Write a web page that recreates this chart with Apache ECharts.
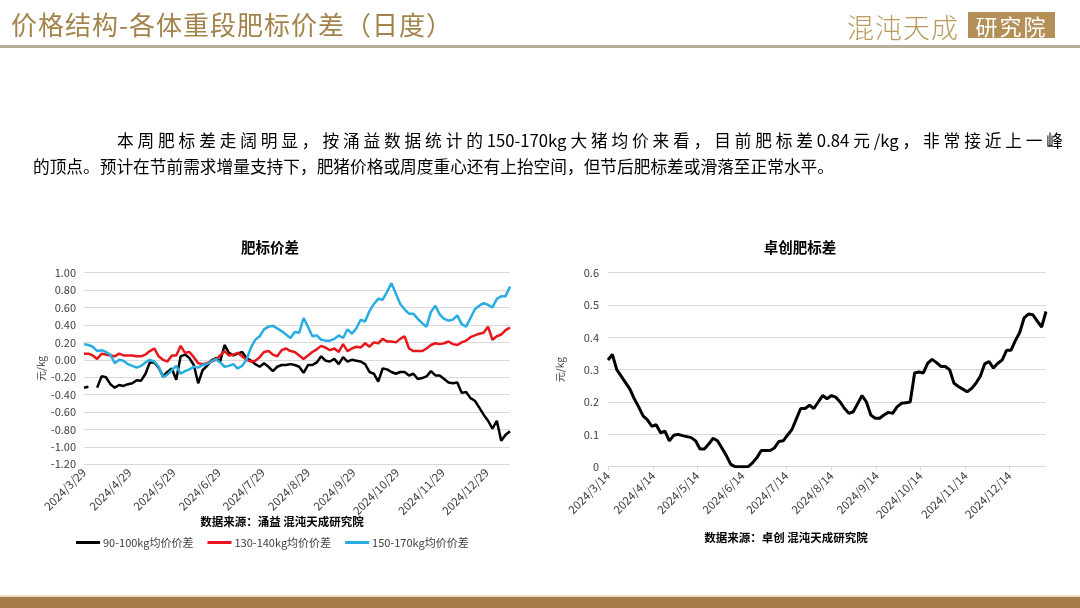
<!DOCTYPE html>
<html><head><meta charset="utf-8">
<script src="https://cdn.jsdelivr.net/npm/echarts@6/dist/echarts.min.js"></script>
<style>
html,body{margin:0;padding:0;background:#fff;}
#page{position:relative;width:1080px;height:608px;overflow:hidden;background:#fff;font-family:"Noto Sans CJK SC","Noto Sans",sans-serif;}
#chart{position:absolute;left:0;top:0;width:1080px;height:608px;}
.abs{position:absolute;white-space:nowrap;}
</style></head>
<body><div id="page">
<div id="chart"></div>
<div class="abs" style="left:11px;top:5px;font-size:26px;color:#A3834C;letter-spacing:1px;">价格结构-各体重段肥标价差（日度）</div>
<div class="abs" style="left:0;top:45px;width:1080px;height:3px;background:#B9AE9A;"></div>
<div class="abs" style="left:847px;top:7px;font-size:27px;color:#B8995F;font-weight:300;letter-spacing:1px;">混沌天成</div>
<div class="abs" style="left:968px;top:12px;width:87px;height:26px;background:#B48F58;color:#fff;font-size:22px;line-height:26px;text-align:center;letter-spacing:2px;">研究院</div>
<div class="abs" style="left:117px;top:128px;width:946px;font-size:16.7px;line-height:24px;color:#000;text-align:justify;text-align-last:justify;">本周肥标差走阔明显，按涌益数据统计的150-170kg大猪均价来看，目前肥标差0.84元/kg，非常接近上一峰</div>
<div class="abs" style="left:33px;top:154px;font-size:16.7px;line-height:24px;color:#000;">的顶点。预计在节前需求增量支持下，肥猪价格或周度重心还有上抬空间，但节后肥标差或滑落至正常水平。</div>
<div class="abs" style="left:0;top:595px;width:1080px;height:2px;background:#EBDDBF;"></div>
<div class="abs" style="left:0;top:597px;width:1080px;height:11px;background:#A67C4A;"></div>
</div>
<script>
// ---- data ----
const leftStart = '2024/3/29', leftDays = 292, leftStep = 3;
const rightStart = '2024/3/14', rightDays = 301, rightStep = 3;
const seriesNames = ['90-100kg均价价差', '130-140kg均价价差', '150-170kg均价价差'];
const rightName = '卓创肥标差';
const leftTicks = [-1.2, 1.0, 0.2];
const rightTicks = [0, 0.6, 0.1];

const black = [
-0.32,-0.31,null,-0.32,-0.19,-0.20,-0.28,-0.32,-0.29,-0.30,
-0.28,-0.27,-0.235,-0.24,-0.16,-0.03,-0.03,-0.09,-0.19,-0.14,
-0.10,-0.23,0.04,0.06,0.02,-0.06,-0.27,-0.12,-0.07,-0.01,
0.02,-0.02,0.17,0.08,0.05,0.07,0.09,0.02,-0.01,-0.05,
-0.08,-0.04,-0.08,-0.13,-0.08,-0.06,-0.06,-0.05,-0.06,-0.08,
-0.15,-0.06,-0.06,-0.03,0.04,-0.01,-0.02,0.01,-0.05,0.03,
-0.02,0.00,-0.01,-0.02,-0.05,-0.14,-0.16,-0.25,-0.10,-0.11,
-0.14,-0.16,-0.14,-0.14,-0.18,-0.16,-0.22,-0.21,-0.19,-0.13,
-0.18,-0.18,-0.22,-0.26,-0.27,-0.26,-0.38,-0.37,-0.44,-0.47,
-0.55,-0.63,-0.70,-0.79,-0.70,-0.93,-0.86,-0.82];
const red = [
0.07,0.07,0.05,0.01,0.07,0.06,0.05,0.04,0.07,0.05,
0.05,0.05,0.04,0.04,0.06,0.10,0.13,0.04,0.00,-0.02,
0.05,0.05,0.16,0.08,0.09,0.03,-0.04,-0.05,-0.04,-0.02,
0.00,0.05,0.10,0.05,0.06,0.08,0.04,0.00,-0.02,-0.01,
0.03,0.09,0.10,0.06,0.04,0.11,0.13,0.10,0.09,0.05,
0.01,0.05,0.09,0.12,0.16,0.14,0.11,0.13,0.09,0.18,
0.10,0.13,0.15,0.14,0.19,0.15,0.20,0.19,0.24,0.21,
0.21,0.20,0.24,0.27,0.13,0.10,0.10,0.10,0.13,0.17,
0.19,0.18,0.19,0.21,0.18,0.17,0.20,0.22,0.26,0.28,
0.30,0.31,0.38,0.23,0.27,0.29,0.34,0.37];
const blue = [
0.18,0.17,0.15,0.10,0.11,0.09,0.06,-0.04,0.00,-0.01,
-0.05,-0.07,-0.09,-0.07,-0.03,0.00,-0.02,-0.08,-0.20,-0.17,
-0.12,-0.07,-0.16,-0.13,-0.11,-0.08,-0.09,-0.06,-0.05,-0.02,
0.01,-0.03,-0.08,-0.07,-0.05,-0.10,-0.07,0.00,0.14,0.23,
0.27,0.35,0.38,0.39,0.36,0.33,0.29,0.25,0.32,0.31,
0.48,0.38,0.27,0.28,0.23,0.22,0.22,0.24,0.28,0.25,
0.35,0.30,0.36,0.46,0.44,0.56,0.64,0.70,0.69,0.78,
0.88,0.76,0.64,0.58,0.53,0.53,0.47,0.42,0.38,0.55,
0.62,0.52,0.47,0.45,0.46,0.51,0.41,0.38,0.48,0.58,
0.62,0.65,0.63,0.60,0.70,0.73,0.73,0.84];
const zhuochuang = [
0.33,0.347,0.30,0.28,0.26,0.24,0.21,0.185,0.157,0.145,
0.125,0.13,0.105,0.11,0.08,0.097,0.10,0.096,0.093,0.09,
0.08,0.055,0.055,0.07,0.088,0.08,0.058,0.035,0.008,0.0,
0.0,0.0,0.0,0.012,0.028,0.05,0.05,0.05,0.058,0.078,
0.08,0.098,0.115,0.148,0.18,0.18,0.19,0.18,0.20,0.22,
0.21,0.22,0.215,0.20,0.18,0.165,0.17,0.195,0.22,0.20,
0.16,0.15,0.15,0.16,0.168,0.165,0.185,0.196,0.198,0.20,
0.29,0.293,0.29,0.32,0.332,0.322,0.31,0.31,0.30,0.258,
0.248,0.24,0.232,0.242,0.258,0.28,0.318,0.325,0.305,0.32,
0.33,0.36,0.36,0.39,0.415,0.46,0.472,0.47,0.45,0.432,
0.48];

function dailyDates(start, count) {
  const p = start.split('/').map(Number);
  const t0 = Date.UTC(p[0], p[1] - 1, p[2]);
  const out = [];
  for (let i = 0; i < count; i++) {
    const d = new Date(t0 + i * 86400000);
    out.push(d.getUTCFullYear() + '/' + (d.getUTCMonth() + 1) + '/' + d.getUTCDate());
  }
  return out;
}
const leftCats = dailyDates(leftStart, leftDays);
const rightCats = dailyDates(rightStart, rightDays);
function pairs(vals, cats, step) {
  return vals.map((v, k) => [cats[k * step], v === null ? '-' : v]);
}
const on29 = (i, v) => /\/29$/.test(v);
const on14 = (i, v) => /\/14$/.test(v);
const FONT = '"Noto Sans CJK SC","Noto Sans",sans-serif';
const axisText = {fontSize: 11, color: '#404040', fontFamily: FONT};
const xText = {fontSize: 11.5, color: '#404040', fontFamily: FONT};

const chart = echarts.init(document.getElementById('chart'), null, {renderer: 'canvas'});
chart.setOption({
  animation: false,
  backgroundColor: 'transparent',
  textStyle: {fontFamily: FONT},
  grid: [
    {left: 84, top: 272.7, width: 426, height: 191.6},
    {left: 608, top: 272.7, width: 438, height: 194}
  ],
  xAxis: [
    {gridIndex: 0, type: 'category', data: leftCats, boundaryGap: false,
     axisLine: {show: false}, axisTick: {show: false}, splitLine: {show: false},
     axisLabel: Object.assign({interval: on29, rotate: 45, margin: 6}, xText)},
    {gridIndex: 1, type: 'category', data: rightCats, boundaryGap: false,
     axisLine: {show: true, lineStyle: {color: '#D9D9D9', width: 1}},
     axisTick: {show: true, interval: on14, length: 4, lineStyle: {color: '#D9D9D9'}},
     splitLine: {show: false},
     axisLabel: Object.assign({interval: on14, rotate: 45, margin: 7}, xText)}
  ],
  yAxis: [
    {gridIndex: 0, type: 'value', min: leftTicks[0], max: leftTicks[1], interval: leftTicks[2],
     axisLine: {show: false}, axisTick: {show: false},
     splitLine: {lineStyle: {color: '#D9D9D9', width: 1}},
     axisLabel: Object.assign({margin: 8, formatter: v => v.toFixed(2)}, axisText),
     name: '元/kg', nameLocation: 'middle', nameGap: 38,
     nameTextStyle: {fontSize: 10, color: '#404040', fontFamily: FONT}},
    {gridIndex: 1, type: 'value', min: rightTicks[0], max: rightTicks[1], interval: rightTicks[2],
     axisLine: {show: false}, axisTick: {show: false},
     splitLine: {lineStyle: {color: '#D9D9D9', width: 1}},
     axisLabel: Object.assign({margin: 9, formatter: v => String(+v.toFixed(1))}, axisText),
     name: '元/kg', nameLocation: 'middle', nameGap: 43,
     nameTextStyle: {fontSize: 10, color: '#404040', fontFamily: FONT}}
  ],
  legend: {
    left: 76, top: 537, padding: 0, icon: 'rect', itemWidth: 24, itemHeight: 3, itemGap: 14,
    textStyle: {fontSize: 11, color: '#404040', fontFamily: FONT, padding: [0, 0, 0, -2]},
    data: seriesNames
  },
  graphic: [
    {type: 'text', x: 270, y: 247, style: {text: '肥标价差', align: 'center', verticalAlign: 'middle', font: 'bold 14.5px ' + FONT, fill: '#000'}},
    {type: 'text', x: 800, y: 247, style: {text: '卓创肥标差', align: 'center', verticalAlign: 'middle', font: 'bold 14.5px ' + FONT, fill: '#000'}},
    {type: 'text', x: 282, y: 522, style: {text: '数据来源：涌益 混沌天成研究院', align: 'center', verticalAlign: 'middle', font: 'bold 11.5px ' + FONT, fill: '#000'}},
    {type: 'text', x: 786, y: 538, style: {text: '数据来源：卓创 混沌天成研究院', align: 'center', verticalAlign: 'middle', font: 'bold 11.5px ' + FONT, fill: '#000'}}
  ],
  series: [
    {name: seriesNames[0], type: 'line', xAxisIndex: 0, yAxisIndex: 0, data: pairs(black, leftCats, leftStep),
     symbol: 'none', lineStyle: {color: '#000000', width: 2.5}, itemStyle: {color: '#000000'}},
    {name: seriesNames[1], type: 'line', xAxisIndex: 0, yAxisIndex: 0, data: pairs(red, leftCats, leftStep),
     symbol: 'none', lineStyle: {color: '#E8161B', width: 2.5}, itemStyle: {color: '#E8161B'}},
    {name: seriesNames[2], type: 'line', xAxisIndex: 0, yAxisIndex: 0, data: pairs(blue, leftCats, leftStep),
     symbol: 'none', lineStyle: {color: '#28ACE2', width: 2.5}, itemStyle: {color: '#28ACE2'}},
    {name: rightName, type: 'line', xAxisIndex: 1, yAxisIndex: 1, data: pairs(zhuochuang, rightCats, rightStep),
     symbol: 'none', lineStyle: {color: '#000000', width: 3}, itemStyle: {color: '#000000'}}
  ]
});
</script>
</body></html>
